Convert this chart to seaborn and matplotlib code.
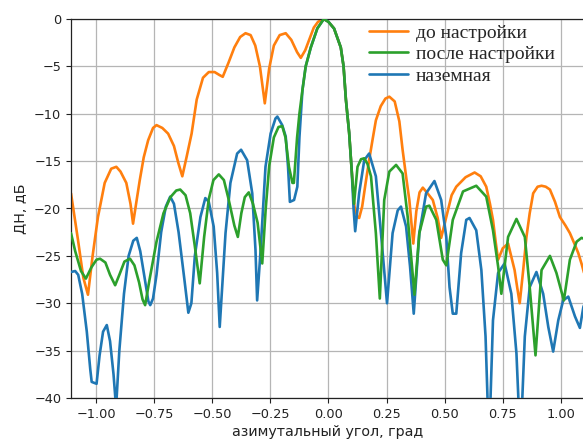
import matplotlib
matplotlib.use("Agg")
import matplotlib.pyplot as plt
import seaborn as sns
import numpy as np
import pandas as pd

# ---- data ----
before_x = [-1.108, -1.078, -1.055, -1.035, -1.015, -0.992, -0.963, -0.935, -0.913, -0.895, -0.870,
            -0.852, -0.841, -0.826, -0.812, -0.795, -0.776, -0.755, -0.740, -0.715, -0.690, -0.665,
            -0.646, -0.629, -0.610, -0.589, -0.567, -0.540, -0.515, -0.490, -0.470, -0.455, -0.430,
            -0.405, -0.380, -0.357, -0.335, -0.315, -0.295, -0.274, -0.255, -0.235, -0.210, -0.184,
            -0.160, -0.135, -0.119, -0.100, -0.080, -0.063, -0.045, -0.020, 0.000, 0.024, 0.053,
            0.065, 0.075, 0.089, 0.100, 0.112, 0.124, 0.132, 0.145, 0.160, 0.175, 0.190, 0.204,
            0.225, 0.245, 0.262, 0.285, 0.305, 0.319, 0.335, 0.348, 0.365, 0.378, 0.392, 0.406,
            0.420, 0.449, 0.470, 0.485, 0.507, 0.530, 0.550, 0.590, 0.629, 0.655, 0.679, 0.695,
            0.708, 0.720, 0.730, 0.750, 0.773, 0.801, 0.812, 0.823, 0.838, 0.852, 0.866, 0.881,
            0.900, 0.917, 0.935, 0.953, 0.975, 0.996, 1.020, 1.039, 1.060, 1.075, 1.090, 1.100]
before_y = [-18.4, -23.3, -27.3, -29.1, -25.0, -20.9, -17.3, -15.8, -15.6, -16.1, -17.3,
            -19.5, -21.6, -19.2, -17.0, -14.6, -12.8, -11.5, -11.2, -11.5, -12.1, -13.4,
            -15.2, -16.6, -14.5, -12.1, -8.5, -6.2, -5.6, -5.6, -5.9, -6.1, -4.6,
            -3.0, -1.9, -1.5, -1.7, -2.8, -5.0, -8.9, -5.2, -2.8, -1.7, -1.5,
            -2.2, -3.5, -4.1, -3.3, -2.0, -0.9, -0.3, 0.0, -0.3, -1.0, -3.0,
            -5.0, -8.5, -12.0, -16.0, -19.8, -20.9, -21.0, -19.8, -17.3, -14.9, -12.7, -10.7,
            -9.2, -8.4, -8.2, -8.7, -10.8, -13.8, -16.8, -19.1, -23.7, -20.3, -18.3, -17.8,
            -18.2, -19.1, -21.0, -23.1, -20.9, -18.6, -17.7, -16.7, -16.2, -16.6, -17.7, -19.5,
            -21.2, -23.6, -25.4, -24.2, -23.7, -26.5, -28.3, -30.0, -26.5, -23.0, -20.5, -18.4,
            -17.7, -17.6, -17.7, -18.0, -19.3, -20.9, -21.8, -22.6, -23.8, -24.7, -25.9, -26.8]

after_x = [-1.108, -1.090, -1.065, -1.044, -1.020, -0.998, -0.983, -0.960, -0.940, -0.918, -0.900,
           -0.878, -0.854, -0.835, -0.815, -0.800, -0.789, -0.770, -0.740, -0.710, -0.680, -0.655,
           -0.638, -0.615, -0.595, -0.575, -0.554, -0.535, -0.515, -0.495, -0.472, -0.450, -0.430,
           -0.405, -0.390, -0.375, -0.360, -0.343, -0.325, -0.305, -0.285, -0.270, -0.255, -0.235,
           -0.215, -0.199, -0.185, -0.170, -0.155, -0.149, -0.135, -0.125, -0.112, -0.098, -0.076,
           -0.048, -0.020, 0.000, 0.024, 0.053, 0.065, 0.075, 0.089, 0.100, 0.110, 0.125,
           0.140, 0.154, 0.168, 0.183, 0.204, 0.221, 0.240, 0.262, 0.291, 0.319, 0.341,
           0.370, 0.391, 0.420, 0.434, 0.464, 0.492, 0.507, 0.535, 0.579, 0.636, 0.679,
           0.708, 0.730, 0.744, 0.773, 0.809, 0.845, 0.866, 0.891, 0.917, 0.953, 0.981,
           1.013, 1.039, 1.068, 1.089, 1.100]
after_y = [-22.6, -24.5, -26.6, -27.4, -26.2, -25.4, -25.3, -25.7, -27.0, -28.1, -27.0,
           -25.6, -25.3, -26.0, -27.8, -29.6, -30.2, -27.5, -23.5, -20.5, -18.8, -18.1,
           -18.0, -18.6, -20.5, -24.0, -27.9, -23.0, -19.0, -17.0, -16.4, -17.0, -19.0,
           -21.8, -23.0, -20.5, -18.8, -18.3, -19.5, -21.5, -25.8, -20.0, -15.5, -12.5,
           -11.4, -11.3, -12.5, -15.6, -17.3, -17.3, -12.5, -10.0, -7.5, -5.0, -3.0,
           -1.0, 0.0, -0.3, -1.0, -3.0, -5.0, -8.5, -12.0, -16.0, -19.5, -15.6,
           -14.8, -14.7, -15.3, -16.6, -22.6, -29.5, -19.1, -16.1, -15.4, -16.3, -20.9,
           -29.1, -22.6, -19.8, -19.7, -21.2, -25.4, -26.0, -21.2, -18.2, -17.6, -18.75,
           -22.3, -26.1, -29.0, -23.0, -21.1, -23.0, -28.3, -35.5, -26.5, -25.0, -26.8,
           -29.7, -25.4, -23.5, -23.1, -23.2]

ground_x = [-1.108, -1.090, -1.077, -1.060, -1.040, -1.025, -1.019, -0.998, -0.985, -0.970, -0.954,
            -0.940, -0.925, -0.914, -0.900, -0.880, -0.860, -0.840, -0.825, -0.810, -0.790, -0.775,
            -0.767, -0.755, -0.740, -0.720, -0.700, -0.681, -0.665, -0.645, -0.620, -0.603, -0.590,
            -0.575, -0.551, -0.530, -0.515, -0.494, -0.479, -0.468, -0.443, -0.422, -0.393, -0.376,
            -0.350, -0.328, -0.314, -0.307, -0.292, -0.271, -0.249, -0.228, -0.220, -0.199, -0.184,
            -0.174, -0.166, -0.148, -0.134, -0.125, -0.112, -0.098, -0.076, -0.048, -0.020, 0.000,
            0.024, 0.053, 0.065, 0.075, 0.089, 0.100, 0.108, 0.115, 0.132, 0.154, 0.175,
            0.204, 0.226, 0.252, 0.276, 0.298, 0.312, 0.334, 0.351, 0.367, 0.391, 0.420,
            0.456, 0.485, 0.507, 0.521, 0.535, 0.550, 0.571, 0.593, 0.607, 0.636, 0.658,
            0.676, 0.691, 0.708, 0.730, 0.758, 0.787, 0.809, 0.826, 0.845, 0.866, 0.895,
            0.924, 0.946, 0.967, 0.989, 1.010, 1.032, 1.061, 1.082, 1.097, 1.100]
ground_y = [-26.7, -26.6, -27.0, -29.0, -33.0, -37.0, -38.3, -38.5, -35.5, -33.0, -32.3,
            -34.0, -37.5, -41.0, -35.0, -29.0, -25.0, -23.4, -23.1, -24.5, -27.5, -29.8,
            -30.2, -29.5, -27.0, -22.5, -19.8, -18.75, -19.5, -22.5, -27.5, -31.0, -30.0,
            -25.0, -20.9, -18.9, -19.3, -21.9, -26.8, -32.5, -22.6, -17.3, -14.2, -13.8,
            -14.9, -18.4, -24.4, -29.7, -24.4, -15.6, -12.1, -10.5, -10.3, -11.2, -12.4,
            -15.6, -19.3, -19.1, -17.7, -12.5, -7.5, -5.0, -3.0, -1.0, 0.0, -0.3,
            -1.0, -3.0, -5.0, -8.5, -12.0, -16.0, -20.0, -22.4, -18.4, -14.9, -14.2,
            -16.6, -22.6, -30.0, -22.6, -20.2, -19.8, -21.9, -26.1, -31.1, -22.6, -18.4,
            -17.1, -19.1, -23.0, -28.3, -31.1, -31.1, -24.7, -21.2, -21.0, -22.3, -26.5,
            -33.5, -45.0, -31.8, -26.8, -25.8, -29.0, -35.3, -45.0, -33.5, -28.3, -26.7,
            -29.0, -32.5, -35.1, -31.8, -29.7, -29.3, -31.4, -32.6, -30.4, -30.2]

labels = ["до настройки", "после настройки", "наземная"]
colors = ["#ff7f0e", "#2ca02c", "#1f77b4"]
x_ticks = [-1.00, -0.75, -0.50, -0.25, 0.00, 0.25, 0.50, 0.75, 1.00]
y_ticks = [0, -5, -10, -15, -20, -25, -30, -35, -40]

sns.set_style("whitegrid")
plt.rcParams["font.family"] = ["DejaVu Sans"]

W, H = 583, 444
fig = plt.figure(figsize=(W / 100, H / 100), dpi=100)
ax = fig.add_axes([71 / W, (H - 398) / H, (W - 71 + 2) / W, (398 - 19) / H])

series = [(before_x, before_y), (after_x, after_y), (ground_x, ground_y)]
zorders = [2, 4, 3]
for (xs, ys), lab, col, z in zip(series, labels, colors, zorders):
    df = pd.DataFrame({"x": xs, "y": ys})
    sns.lineplot(data=df, x="x", y="y", ax=ax, color=col, linewidth=1.9,
                 sort=False, estimator=None, label=lab, zorder=z)

ax.set_xlim(-1.108, 1.104)
ax.set_ylim(-40, 0)
ax.set_xticks(x_ticks)
ax.set_xticklabels([f"{t:.2f}".replace("-", "\u2212") for t in x_ticks])
ax.set_yticks(y_ticks)
ax.set_yticklabels([str(t).replace("-", "\u2212") for t in y_ticks])
ax.tick_params(axis="both", labelsize=9.3, colors="#222222", length=3.5, width=0.8,
               direction="out", bottom=True, left=True)
ax.grid(True, color="#b5b5b5", linewidth=0.9)
for s in ax.spines.values():
    s.set_visible(True)
    s.set_color("#222222")
    s.set_linewidth(0.9)

ax.set_xlabel("азимутальный угол, град", fontsize=10.3, color="#222222", labelpad=3)
ax.set_ylabel("ДН, дБ", fontsize=10.3, color="#222222", labelpad=4)

handles, labs = ax.get_legend_handles_labels()
ax.legend(handles, labs, loc="upper left", bbox_to_anchor=((368 - 71) / 512, (398 - 24) / 379),
          frameon=False, prop={"family": "Liberation Serif", "size": 14},
          handlelength=2.0, handletextpad=0.4, labelspacing=0.2,
          borderpad=0, borderaxespad=0)

fig.savefig("out.png", dpi=100)
